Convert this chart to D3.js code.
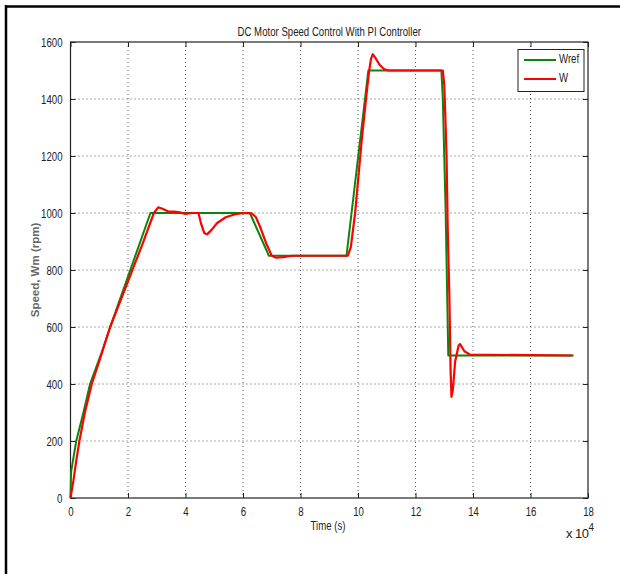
<!DOCTYPE html>
<html><head><meta charset="utf-8">
<script src="https://cdn.jsdelivr.net/npm/d3@7"></script>
<style>
html,body{margin:0;padding:0;background:#fff;}
svg text{font-family:"Liberation Sans",Arial,sans-serif;}
</style></head>
<body>
<script>
// ---- data (time in units of 1e4 s) ----
const title = "DC Motor Speed Control With PI Controller";
const xTicks = [0, 2, 4, 6, 8, 10, 12, 14, 16, 18];
const yTicks = [0, 200, 400, 600, 800, 1000, 1200, 1400, 1600];
const seriesNames = ["Wref", "W"];
const wrefT = [0, 0.02, 0.1, 0.2, 0.45, 0.68, 0.9, 1.1, 1.38, 2.78, 6.24, 6.9, 9.6, 10.36, 12.9, 12.95, 13.05, 13.14, 17.5];
const wrefV = [0, 90, 140, 200, 300, 400, 460, 515, 600, 1000, 1000, 850, 850, 1500, 1500, 1400, 1000, 500, 500];
const wT = [0, 0.1, 0.2, 0.31, 0.5, 0.74, 1.0, 1.38, 2.0, 2.5, 2.9, 3.05, 3.2, 3.4, 3.6, 3.8, 4.0, 4.2, 4.45, 4.55, 4.65, 4.75, 4.9, 5.1, 5.4, 5.7, 6.0, 6.3, 6.45, 6.6, 6.8, 7.0, 7.15, 7.4, 7.7, 9.65, 9.75, 9.9, 10.13, 10.3, 10.39, 10.45, 10.51, 10.6, 10.75, 10.9, 11.05, 12.95, 13.0, 13.05, 13.08, 13.12, 13.18, 13.22, 13.25, 13.3, 13.38, 13.5, 13.55, 13.7, 13.9, 17.45];
const wV = [0, 60, 130, 200, 300, 400, 480, 600, 760, 890, 1000, 1020, 1015, 1005, 1005, 1002, 997, 1000, 1000, 960, 930, 925, 940, 965, 985, 995, 1000, 999, 985, 950, 895, 850, 843, 845, 850, 850, 880, 1000, 1256, 1420, 1500, 1540, 1557, 1545, 1520, 1505, 1500, 1500, 1450, 1300, 1200, 950, 700, 450, 355, 380, 480, 535, 540, 515, 503, 500];

const W = 620, H = 574;
const m = {left: 70.5, right: 588, top: 42, bottom: 498};
const FS = "13px", SQ = 0.74; // font size and horizontal squeeze (narrow look)
const svg = d3.select("body").append("svg").attr("width", W).attr("height", H);

// figure frame
svg.append("line").attr("x1", 6).attr("x2", 6).attr("y1", 5).attr("y2", H).attr("stroke", "#000").attr("stroke-width", 2.5);
svg.append("line").attr("x1", 5).attr("x2", W).attr("y1", 6.5).attr("y2", 6.5).attr("stroke", "#000").attr("stroke-width", 2.5);

const x = d3.scaleLinear().domain([0, 18]).range([m.left, m.right]);
const y = d3.scaleLinear().domain([0, 1600]).range([m.bottom, m.top]);

// grid
const g = svg.append("g");
g.selectAll(".gx").data(xTicks.slice(1, -1)).enter().append("line")
  .attr("x1", d => x(d)).attr("x2", d => x(d)).attr("y1", m.top).attr("y2", m.bottom)
  .attr("stroke", "#555").attr("stroke-width", 1).attr("stroke-dasharray", "1,3");
g.selectAll(".gy").data(yTicks.slice(1, -1)).enter().append("line")
  .attr("x1", m.left).attr("x2", m.right).attr("y1", d => y(d)).attr("y2", d => y(d))
  .attr("stroke", "#555").attr("stroke-width", 1).attr("stroke-dasharray", "1,3");

// axes
const fmt = d3.format("d");
const ax = d3.axisBottom(x).tickValues(xTicks).tickFormat(fmt).tickSize(-5).tickPadding(9);
const ay = d3.axisLeft(y).tickValues(yTicks).tickFormat(fmt).tickSize(-5).tickPadding(8);
const axT = d3.axisTop(x).tickValues(xTicks).tickSize(-5).tickFormat("");
const ayR = d3.axisRight(y).tickValues(yTicks).tickSize(-5).tickFormat("");
function style(sel) {
  sel.select(".domain").remove();
  sel.selectAll("line").attr("stroke", "#222");
  sel.selectAll("text").attr("fill", "#222").style("font-size", FS).style("font-family", "'Liberation Sans',Arial,sans-serif");
}
svg.append("g").attr("transform", `translate(0,${m.bottom})`).call(ax).call(style);
svg.append("g").attr("transform", `translate(${m.left},0)`).call(ay).call(style);
svg.append("g").attr("transform", `translate(0,${m.top})`).call(axT).call(style);
svg.append("g").attr("transform", `translate(${m.right},0)`).call(ayR).call(style);
svg.append("rect").attr("x", m.left).attr("y", m.top).attr("width", m.right - m.left).attr("height", m.bottom - m.top)
  .attr("fill", "none").attr("stroke", "#222").attr("stroke-width", 1.2);

// lines
const line = d3.line().x(d => x(d[0])).y(d => y(d[1]));
const wref = wrefT.map((t, i) => [t, wrefV[i]]);
const w = wT.map((t, i) => [t, wV[i]]);
svg.append("path").datum(wref).attr("d", line).attr("fill", "none").attr("stroke", "#0a850a").attr("stroke-width", 2).attr("stroke-linejoin", "round");
svg.append("path").datum(w).attr("d", line).attr("fill", "none").attr("stroke", "#ff0000").attr("stroke-width", 2.2).attr("stroke-linejoin", "round");

// title & labels
svg.append("text").attr("x", (m.left + m.right) / 2).attr("y", 33).attr("text-anchor", "middle")
  .attr("dominant-baseline", "middle").style("font-size", FS).attr("fill", "#222").text(title);
svg.append("text").attr("x", 328).attr("y", 527).attr("text-anchor", "middle").attr("dominant-baseline", "middle")
  .style("font-size", FS).attr("fill", "#222").text("Time (s)");
const xm = svg.append("text").attr("class", "nosq").attr("x", 566).attr("y", 538).style("font-size", FS).attr("fill", "#222");
xm.append("tspan").text("x 10");
xm.append("tspan").attr("dy", -7).style("font-size", "10px").text("4");
svg.append("text").attr("transform", "translate(39,270) rotate(-90)").attr("text-anchor", "middle")
  .style("font-size", "11.5px").style("font-weight", "bold")
  .attr("fill", "#666").text("Speed, Wm (rpm)");

// legend
const lg = svg.append("g");
lg.append("rect").attr("x", 518).attr("y", 49.5).attr("width", 66).attr("height", 42).attr("fill", "#fff").attr("stroke", "#222");
const cols = ["#0a850a", "#ff0000"];
seriesNames.forEach((n, i) => {
  const yy = 60 + i * 19;
  lg.append("line").attr("x1", 524).attr("x2", 556).attr("y1", yy).attr("y2", yy).attr("stroke", cols[i]).attr("stroke-width", 2);
  lg.append("text").attr("x", 559).attr("y", yy).attr("dominant-baseline", "middle").style("font-size", FS).attr("fill", "#222").text(n);
});

// narrow-font look: squeeze glyphs horizontally
svg.selectAll("text").each(function() {
  const n = this;
  if (n.classList.contains("nosq")) {
    n.style.letterSpacing = "-0.5px";
    return;
  }
  if (n.textContent === "Speed, Wm (rpm)") return;
  const len = n.getComputedTextLength();
  if (len > 0) { n.setAttribute("textLength", (len * SQ).toFixed(1)); n.setAttribute("lengthAdjust", "spacingAndGlyphs"); }
});
</script>
</body></html>
